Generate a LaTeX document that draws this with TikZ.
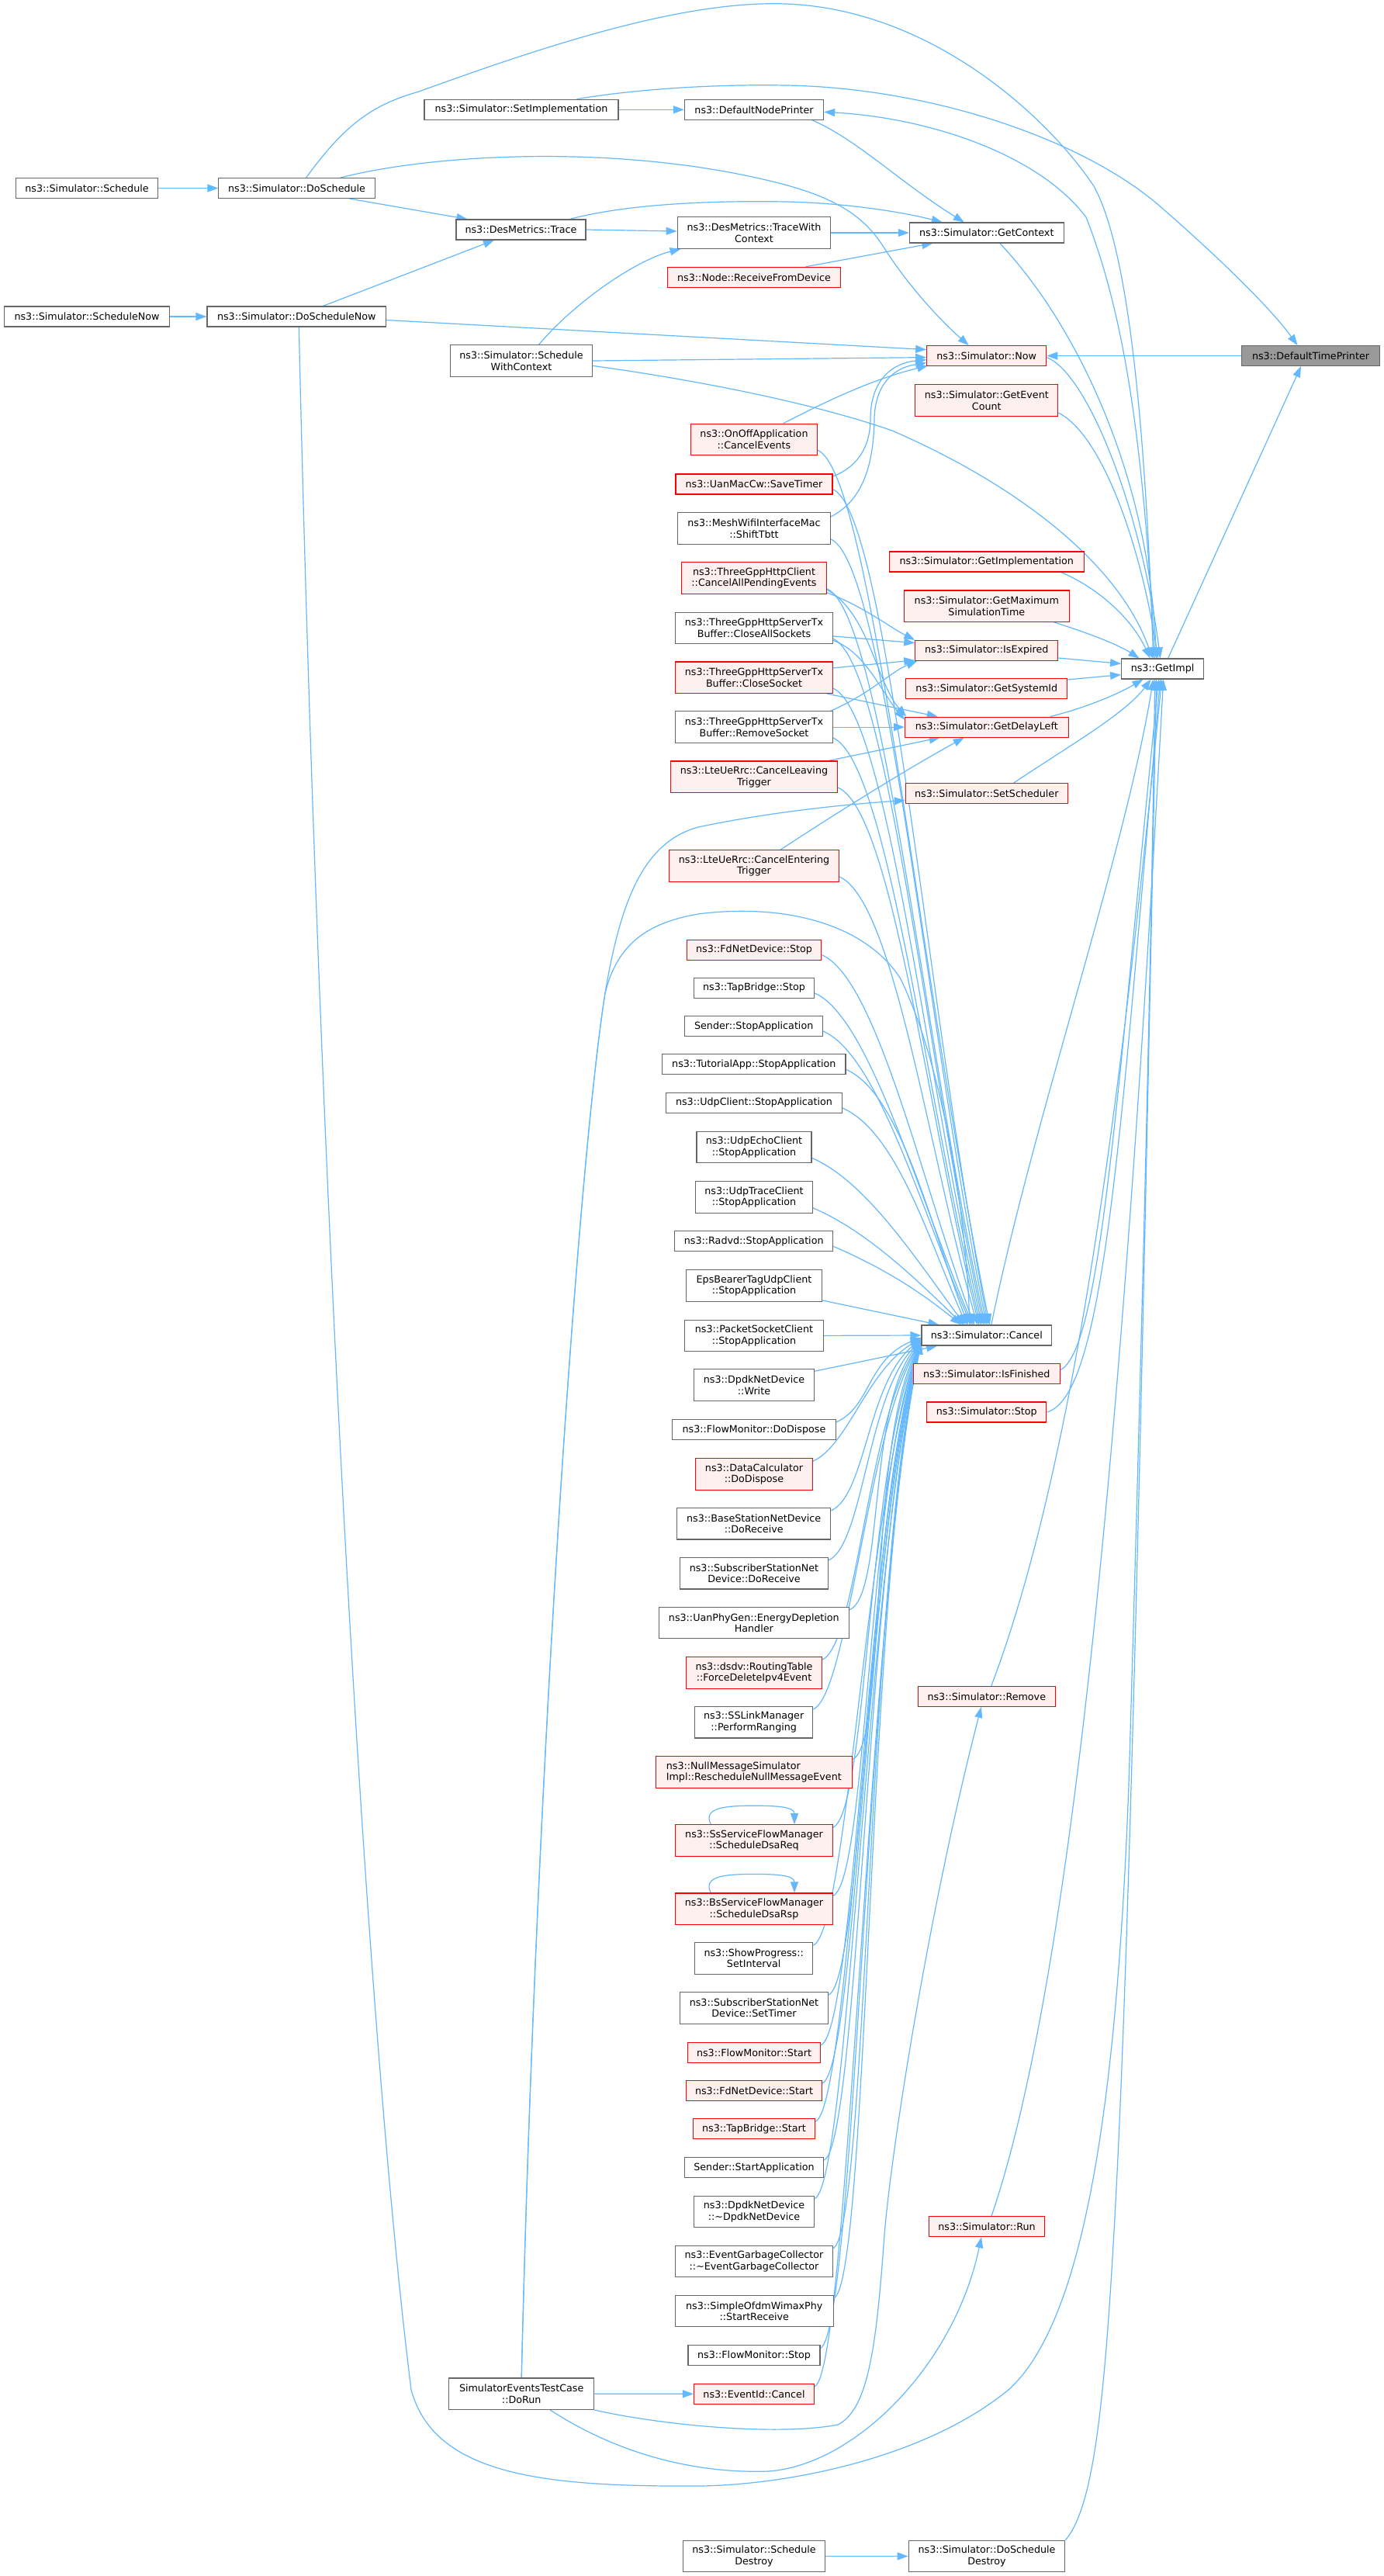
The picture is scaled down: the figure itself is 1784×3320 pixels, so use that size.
\documentclass[tikz,border=0pt]{standalone}
\usepackage{fontspec}
\setmainfont{DejaVu Sans}
\usetikzlibrary{arrows.meta,calc}
\definecolor{edgeblue}{HTML}{63B8FF}
\definecolor{nodegray}{HTML}{666666}
\definecolor{nodered}{HTML}{FF0000}
\definecolor{nodepink}{HTML}{FFF0F0}
\definecolor{rootgray}{HTML}{999999}
\pgfdeclarelayer{bg}
\pgfsetlayers{bg,main}
\tikzset{
  gbox/.style={draw=nodegray, fill=white, line width=1.1pt, inner sep=0pt, minimum height=26pt, align=center, text=black, font=\fontsize{12.7pt}{14.6pt}\selectfont},
  rbox/.style={gbox, draw=nodered, fill=nodepink},
  rootbox/.style={gbox, fill=rootgray},
  two/.style={minimum height=40.5pt},
  arr/.style={draw=edgeblue, line width=1.2pt, -{Triangle[length=14pt,width=10pt]}},
}
\begin{document}
\begin{tikzpicture}[x=1pt,y=-1pt]
\useasboundingbox (0,0) rectangle (1784,3320);
% column A/B/C
\node[gbox,minimum width=182.5pt] (sch) at (112,242.5) {ns3::Simulator::Schedule};
\node[gbox,minimum width=212.4pt] (schnow) at (112,408) {ns3::Simulator::ScheduleNow};
\node[gbox,minimum width=201.4pt] (dos) at (382.6,242.5) {ns3::Simulator::DoSchedule};
\node[gbox,minimum width=230.7pt] (dosnow) at (382.3,408) {ns3::Simulator::DoScheduleNow};
\node[gbox,minimum width=250pt] (setimpl) at (672,141.3) {ns3::Simulator::SetImplementation};
\node[gbox,minimum width=167pt] (trace) at (671.5,296) {ns3::DesMetrics::Trace};
\node[gbox,two,minimum width=183pt] (swc) at (672,465) {ns3::Simulator::Schedule\\WithContext};
\node[gbox,two,minimum width=187pt] (dorun) at (672.2,3085.2) {SimulatorEventsTestCase\\::DoRun};
% column D
\node[gbox,minimum width=179.3pt] (dnp) at (972,141.3) {ns3::DefaultNodePrinter};
\node[gbox,two,minimum width=197.7pt] (twc) at (972,300) {ns3::DesMetrics::TraceWith\\Context};
\node[rbox,minimum width=223pt] (nrfd) at (972,357.3) {ns3::Node::ReceiveFromDevice};
\node[rbox,two,minimum width=163pt] (onoff) at (972,566.4) {ns3::OnOffApplication\\::CancelEvents};
\node[rbox,minimum width=202pt] (uan) at (972,624) {ns3::UanMacCw::SaveTimer};
\node[gbox,two,minimum width=196.6pt] (mesh) at (972,681) {ns3::MeshWifiInterfaceMac\\::ShiftTbtt};
\node[rbox,two,minimum width=186.7pt] (tgc) at (972,745) {ns3::ThreeGppHttpClient\\::CancelAllPendingEvents};
\node[gbox,two,minimum width=202.3pt] (tcas) at (972,809.3) {ns3::ThreeGppHttpServerTx\\Buffer::CloseAllSockets};
\node[rbox,two,minimum width=202.3pt] (tcs) at (972,873.2) {ns3::ThreeGppHttpServerTx\\Buffer::CloseSocket};
\node[gbox,two,minimum width=202.3pt] (trs) at (972,937.1) {ns3::ThreeGppHttpServerTx\\Buffer::RemoveSocket};
\node[rbox,two,minimum width=215pt] (lteleave) at (972,1001.2) {ns3::LteUeRrc::CancelLeaving\\Trigger};
\node[rbox,two,minimum width=218.4pt] (lteenter) at (972,1116) {ns3::LteUeRrc::CancelEntering\\Trigger};
\node[rbox,minimum width=173.5pt] (fdstop) at (972,1224.1) {ns3::FdNetDevice::Stop};
\node[gbox,minimum width=155pt] (tbstop) at (972,1273.4) {ns3::TapBridge::Stop};
\node[gbox,minimum width=177.6pt] (sendstop) at (971.7,1322.5) {Sender::StopApplication};
\node[gbox,minimum width=236.3pt] (tutstop) at (971.8,1371.8) {ns3::TutorialApp::StopApplication};
\node[gbox,minimum width=226.4pt] (udpcstop) at (972,1421.4) {ns3::UdpClient::StopApplication};
\node[gbox,two,minimum width=148pt] (udpecho) at (972,1478.6) {ns3::UdpEchoClient\\::StopApplication};
\node[gbox,two,minimum width=150.5pt] (udptrace) at (972,1542.9) {ns3::UdpTraceClient\\::StopApplication};
\node[gbox,minimum width=204pt] (radvd) at (971.7,1599.8) {ns3::Radvd::StopApplication};
\node[gbox,two,minimum width=174.7pt] (eps) at (972,1657.1) {EpsBearerTagUdpClient\\::StopApplication};
\node[gbox,two,minimum width=179.3pt] (pscs) at (972,1721.4) {ns3::PacketSocketClient\\::StopApplication};
\node[gbox,two,minimum width=155pt] (dpdkw) at (972,1785) {ns3::DpdkNetDevice\\::Write};
\node[gbox,minimum width=210.4pt] (fmdd) at (972,1842.5) {ns3::FlowMonitor::DoDispose};
\node[rbox,two,minimum width=150.5pt] (dcdd) at (972,1900) {ns3::DataCalculator\\::DoDispose};
\node[gbox,two,minimum width=198.2pt] (bsdr) at (971.7,1963.7) {ns3::BaseStationNetDevice\\::DoReceive};
\node[gbox,two,minimum width=190.8pt] (ssdr) at (972,2027.7) {ns3::SubscriberStationNet\\Device::DoReceive};
\node[gbox,two,minimum width=245.5pt] (uanphy) at (971.8,2091.6) {ns3::UanPhyGen::EnergyDepletion\\Handler};
\node[rbox,two,minimum width=174.7pt] (dsdv) at (972,2155.9) {ns3::dsdv::RoutingTable\\::ForceDeleteIpv4Event};
\node[gbox,two,minimum width=152.2pt] (sslm) at (971.7,2219.7) {ns3::SSLinkManager\\::PerformRanging};
\node[rbox,two,minimum width=253.5pt,align=left] (nullmsg) at (971.8,2284.1) {ns3::NullMessageSimulator\\Impl::RescheduleNullMessageEvent};
\node[rbox,two,minimum width=202.3pt] (ssreq) at (972,2372) {ns3::SsServiceFlowManager\\::ScheduleDsaReq};
\node[rbox,two,minimum width=202.3pt] (bsrsp) at (972,2460.2) {ns3::BsServiceFlowManager\\::ScheduleDsaRsp};
\node[gbox,two,minimum width=152.2pt] (showp) at (971.7,2523.9) {ns3::ShowProgress::\\SetInterval};
\node[gbox,two,minimum width=190.8pt] (sssettimer) at (972,2587.9) {ns3::SubscriberStationNet\\Device::SetTimer};
\node[rbox,minimum width=171.2pt] (fmstart) at (972,2645.4) {ns3::FlowMonitor::Start};
\node[rbox,minimum width=174.7pt] (fdstart) at (972,2694.6) {ns3::FdNetDevice::Start};
\node[rbox,minimum width=157pt] (tbstart) at (972,2743.9) {ns3::TapBridge::Start};
\node[gbox,minimum width=179.3pt] (sendstart) at (972,2793.6) {Sender::StartApplication};
\node[gbox,two,minimum width=155pt] (dpdkd) at (972,2850.5) {ns3::DpdkNetDevice\\::\textasciitilde DpdkNetDevice};
\node[gbox,two,minimum width=202.3pt] (egc) at (972,2914.6) {ns3::EventGarbageCollector\\::\textasciitilde EventGarbageCollector};
\node[gbox,two,minimum width=204pt] (sofdm) at (972.3,2978.6) {ns3::SimpleOfdmWimaxPhy\\::StartReceive};
\node[gbox,minimum width=170pt] (fmstop) at (972,3035.9) {ns3::FlowMonitor::Stop};
\node[rbox,minimum width=155pt] (evcancel) at (972,3085.3) {ns3::EventId::Cancel};
\node[gbox,two,minimum width=183pt] (schdestroy) at (972,3294.5) {ns3::Simulator::Schedule\\Destroy};
% column E
\node[gbox,minimum width=199pt] (gc) at (1271.8,300) {ns3::Simulator::GetContext};
\node[rbox,minimum width=154pt] (now) at (1271.7,458.6) {ns3::Simulator::Now};
\node[rbox,two,minimum width=184pt] (gec) at (1271.8,516) {ns3::Simulator::GetEvent\\Count};
\node[rbox,minimum width=250.8pt] (getimpln) at (1271.8,724) {ns3::Simulator::GetImplementation};
\node[rbox,two,minimum width=212.7pt] (gmst) at (1271.8,781.2) {ns3::Simulator::GetMaximum\\SimulationTime};
\node[rbox,minimum width=184pt] (isexp) at (1271.8,838.4) {ns3::Simulator::IsExpired};
\node[rbox,minimum width=208pt] (gsid) at (1271.8,887.9) {ns3::Simulator::GetSystemId};
\node[rbox,minimum width=210.5pt] (gdl) at (1271.8,937.1) {ns3::Simulator::GetDelayLeft};
\node[rbox,minimum width=209pt] (setsch) at (1271.8,1022.5) {ns3::Simulator::SetScheduler};
\node[gbox,minimum width=167.7pt] (cancel) at (1271.8,1721) {ns3::Simulator::Cancel};
\node[rbox,minimum width=188.5pt] (isfin) at (1271.8,1770.7) {ns3::Simulator::IsFinished};
\node[rbox,minimum width=154pt] (stop) at (1271.8,1820) {ns3::Simulator::Stop};
\node[rbox,minimum width=177pt] (remove) at (1271.8,2186.4) {ns3::Simulator::Remove};
\node[rbox,minimum width=148.7pt] (run) at (1272,2869.6) {ns3::Simulator::Run};
\node[gbox,two,minimum width=201.8pt] (dsd) at (1272,3294.5) {ns3::Simulator::DoSchedule\\Destroy};
% column F/G
\node[gbox,minimum width=106pt] (impl) at (1498.6,862) {ns3::GetImpl};
\node[rootbox,minimum width=177.5pt] (dtp) at (1689.5,458.6) {ns3::DefaultTimePrinter};

\begin{pgfonlayer}{bg}
\fill[white] (0,0) rectangle (1784,3320);
% left part
\draw[arr] (sch.east) -- (dos.west);
\draw[arr] (schnow.east) -- (dosnow.west);
\draw[arr] ([shift={(68,0)}]dos.south) -- ([shift={(-69,0)}]trace.north);
\draw[arr] ([shift={(34,0)}]dosnow.north) -- ([shift={(-34.5,0)}]trace.south);
\draw[arr] (trace.east) -- ([shift={(0,-2)}]twc.west);
\draw[arr] ([shift={(22.6,0)}]swc.north) .. controls (740,390) and (820,335) .. ([shift={(5,0)}]twc.south west);
\draw[arr] (setimpl.east) -- (dnp.west);
\draw[arr] (twc.east) -- (gc.west);
\draw[arr] ([shift={(66.5,0)}]nrfd.north) -- ([shift={(30.6,0)}]gc.south west);
\draw[arr] ([shift={(75,0)}]dnp.south) .. controls (1105,180) and (1160,235) .. ([shift={(-29,0)}]gc.north);
\draw[arr] ([shift={(63,0)}]trace.north) .. controls (800,265) and (900,258) .. (1013,260) .. controls (1100,262) and (1170,275) .. ([shift={(-57,0)}]gc.north);
% DoSchedule -> GetImpl
\draw[arr] ([shift={(12,0)}]dos.north) .. controls (445,160) and (480,135) .. (540,118) .. controls (700,60) and (880,0) .. (1013,5) .. controls (1200,12) and (1350,150) .. (1410,240) .. controls (1460,330) and (1478,600) .. ([shift={(-12,0)}]impl.north);
% DoSchedule -> Now
\draw[arr] ([shift={(56.4,0)}]dos.north) .. controls (560,198) and (800,185) .. (1000,235) .. controls (1080,255) and (1115,280) .. (1140,320) .. controls (1175,375) and (1220,420) .. ([shift={(-23,0)}]now.north);
% SetImplementation -> DefaultTimePrinter
\draw[arr] ([shift={(71.4,0)}]setimpl.north) .. controls (800,118) and (900,108) .. (1013,110) .. controls (1200,113) and (1400,180) .. (1500,270) .. controls (1580,340) and (1640,400) .. ([shift={(-17,0)}]dtp.north);
\draw[arr] (dtp.west) -- (now.east);
\draw[arr] ([shift={(7,0)}]impl.north) -- ([shift={(-12.5,0)}]dtp.south);
\draw[arr] ([shift={(-10,0)}]impl.north) .. controls (1475,600) and (1455,420) .. (1400,280) .. controls (1340,200) and (1200,152) .. ([shift={(0,3)}]dnp.east);
\draw[arr] ([shift={(17,0)}]gc.south) .. controls (1380,410) and (1480,600) .. ([shift={(-8,0)}]impl.north);
\draw[arr] ([shift={(0,4.5)}]dosnow.east) -- ([shift={(0,-8)}]now.west);
\draw[arr] (swc.east) -- ([shift={(0,2)}]now.west);
\draw[arr] ([shift={(0,6.4)}]swc.east) .. controls (900,490) and (1050,520) .. (1150,555) .. controls (1300,620) and (1440,720) .. ([shift={(-13,0)}]impl.north);
% DoScheduleNow -> GetImpl
\draw[arr] ([shift={(3,0)}]dosnow.south) .. controls (410,1500) and (470,2600) .. (530,3080) .. controls (560,3190) and (700,3205) .. (900,3204) .. controls (1010,3203) and (1190,3170) .. (1300,3080) .. controls (1400,2990) and (1440,2700) .. (1455,2300) .. controls (1470,1800) and (1485,1200) .. ([shift={(-10,0)}]impl.south);
% into GetImpl
\draw[arr] ([shift={(0,2)}]now.east) .. controls (1400,480) and (1470,650) .. ([shift={(-3,0)}]impl.north);
\draw[arr] ([shift={(0,16)}]gec.east) .. controls (1420,560) and (1470,700) .. ([shift={(-6,0)}]impl.north);
\draw[arr] ([shift={(-30,0)}]getimpln.south east) .. controls (1420,760) and (1460,800) .. ([shift={(-16,0)}]impl.north);
\draw[arr] ([shift={(-20,0)}]gmst.south east) .. controls (1400,815) and (1440,830) .. ([shift={(-30,0)}]impl.north);
\draw[arr] ([shift={(0,9.6)}]isexp.east) -- ([shift={(0,-6.6)}]impl.west);
\draw[arr] ([shift={(0,-12)}]gsid.east) -- ([shift={(0,7.6)}]impl.west);
\draw[arr] ([shift={(-24,0)}]gdl.north east) .. controls (1400,912) and (1440,895) .. ([shift={(-25,0)}]impl.south);
\draw[arr] ([shift={(35,0)}]setsch.north) .. controls (1380,960) and (1450,920) .. ([shift={(-15,0)}]impl.south);
\draw[arr] ([shift={(6,0)}]cancel.north) .. controls (1330,1450) and (1450,1100) .. ([shift={(-12,0)}]impl.south);
\draw[arr] ([shift={(0,-5)}]isfin.east) .. controls (1420,1740) and (1440,1400) .. ([shift={(-5,0)}]impl.south);
\draw[arr] (stop.east) .. controls (1425,1800) and (1445,1450) .. ([shift={(-3,0)}]impl.south);
\draw[arr] ([shift={(6,0)}]remove.north) .. controls (1400,1850) and (1455,1300) .. ([shift={(-1,0)}]impl.south);
\draw[arr] ([shift={(6,0)}]run.north) .. controls (1400,2500) and (1460,1600) .. ([shift={(1,0)}]impl.south);
\draw[arr] (dsd.north east) .. controls (1410,3230) and (1425,3100) .. (1440,2800) .. controls (1460,2400) and (1478,1500) .. ([shift={(-8,0)}]impl.south);
\draw[arr] (schdestroy.east) -- (dsd.west);
% into Now
\draw[arr] ([shift={(37.7,0)}]onoff.north) .. controls (1060,520) and (1120,490) .. ([shift={(2,-1)}]now.south west);
\draw[arr] ([shift={(0,-10)}]uan.east) .. controls (1110,600) and (1122,570) .. (1122,540) .. controls (1122,490) and (1150,468) .. ([shift={(0,5)}]now.west);
\draw[arr] ([shift={(0,-15)}]mesh.east) .. controls (1112,645) and (1126,600) .. (1127,540) .. controls (1128,495) and (1152,474) .. ([shift={(0,9)}]now.west);
% IsExpired / GetDelayLeft
\draw[arr] ([shift={(0,-2)}]tgc.south east) .. controls (1110,780) and (1150,810) .. (isexp.north west);
\draw[arr] ([shift={(0,15)}]tgc.east) .. controls (1120,790) and (1130,880) .. ([shift={(2,0)}]gdl.north west);
\draw[arr] ([shift={(0,10.6)}]tcas.east) -- ([shift={(0,-9.8)}]isexp.west);
\draw[arr] ([shift={(0,16)}]tcas.east) .. controls (1115,840) and (1135,890) .. ([shift={(0,4)}]gdl.north west);
\draw[arr] ([shift={(0,-12.3)}]tcs.east) -- ([shift={(0,-1)}]isexp.south west);
\draw[arr] ([shift={(-8,0)}]tcs.south east) -- ([shift={(-63,0)}]gdl.north);
\draw[arr] ([shift={(-3,0)}]trs.north east) .. controls (1120,895) and (1150,865) .. ([shift={(3,0)}]isexp.south west);
\draw[arr] (trs.east) -- (gdl.west);
\draw[arr] ([shift={(-12,0)}]lteleave.north east) -- ([shift={(-60,0)}]gdl.south);
\draw[arr] ([shift={(34,0)}]lteenter.north) .. controls (1090,1040) and (1180,985) .. ([shift={(-29,0)}]gdl.south);
% DoRun
\draw[arr] (dorun.east) -- (evcancel.west);
\draw[arr] ([shift={(37,0)}]dorun.south) .. controls (800,3165) and (900,3188) .. (990,3185) .. controls (1100,3178) and (1230,3050) .. ([shift={(-7,0)}]run.south);
\draw[arr] (dorun.south east) .. controls (850,3125) and (1000,3140) .. (1080,3125) .. controls (1120,3105) and (1130,3020) .. (1140,2880) .. controls (1150,2760) and (1200,2450) .. ([shift={(-7,0)}]remove.south);
\draw[arr] (dorun.north) .. controls (690,2300) and (745,1500) .. (780,1280) .. controls (800,1160) and (830,1085) .. (900,1066) .. controls (1000,1045) and (1100,1036) .. ([shift={(0,9)}]setsch.west);
\draw[arr] (dorun.north) .. controls (690,2300) and (745,1500) .. (780,1280) .. controls (795,1220) and (830,1190) .. (900,1178) .. controls (1000,1165) and (1110,1185) .. (1160,1260) .. controls (1210,1360) and (1245,1550) .. ([shift={(-22,0)}]cancel.north);
% Cancel from above
\foreach \nm/\xo in {onoff/4,uan/2,mesh/0,tgc/-2,tcas/-4,tcs/-6,trs/-8,lteleave/-10,lteenter/-12,fdstop/-16,tbstop/-18,sendstop/-20,tutstop/-24,udpcstop/-26,udpecho/-28,udptrace/-30,radvd/-33}{
  \draw[arr] ([shift={(0,-7)}]\nm.south east) .. controls ([shift={(70,23)}]\nm.south east) and ($(\nm.south east)!0.6!(cancel.north)$) .. ([shift={(\xo,0)}]cancel.north);
}
\draw[arr] ([shift={(0,-2)}]eps.south east) -- ([shift={(23,0)}]cancel.north west);
\draw[arr] (pscs.east) -- (cancel.west);
\draw[arr] ([shift={(0,3)}]dpdkw.north east) -- ([shift={(20.7,0)}]cancel.south west);
% Cancel from below
\coordinate (bx) at (1118,0);
\foreach \nm/\yo in {fmdd/3,dcdd/4,bsdr/5,ssdr/6,uanphy/7,dsdv/8,sslm/8,nullmsg/9,ssreq/9,bsrsp/9,showp/10,sssettimer/10,fmstart/10,fdstart/10,tbstart/10,sendstart/10,dpdkd/10,egc/10,sofdm/10,fmstop/10,evcancel/10}{
  \coordinate (tmp) at ($(cancel.west)!0.25!(\nm.east)$);
  \draw[arr] ([shift={(0,4)}]\nm.north east) .. controls ([shift={(45,-16)}]\nm.north east) and (bx |- tmp) .. ([shift={(0,\yo)}]cancel.west);
}
% self loops
\draw[arr] ([shift={(-55.7,0)}]ssreq.north) .. controls ([shift={(-67,-22)}]ssreq.north) and ([shift={(-35,-24)}]ssreq.north) .. ([shift={(0,-24)}]ssreq.north) .. controls ([shift={(33,-24)}]ssreq.north) and ([shift={(52,-22)}]ssreq.north) .. ([shift={(52,0)}]ssreq.north);
\draw[arr] ([shift={(-55.7,0)}]bsrsp.north) .. controls ([shift={(-67,-22)}]bsrsp.north) and ([shift={(-35,-24)}]bsrsp.north) .. ([shift={(0,-24)}]bsrsp.north) .. controls ([shift={(33,-24)}]bsrsp.north) and ([shift={(52,-22)}]bsrsp.north) .. ([shift={(52,0)}]bsrsp.north);
\end{pgfonlayer}
\end{tikzpicture}
\end{document}
